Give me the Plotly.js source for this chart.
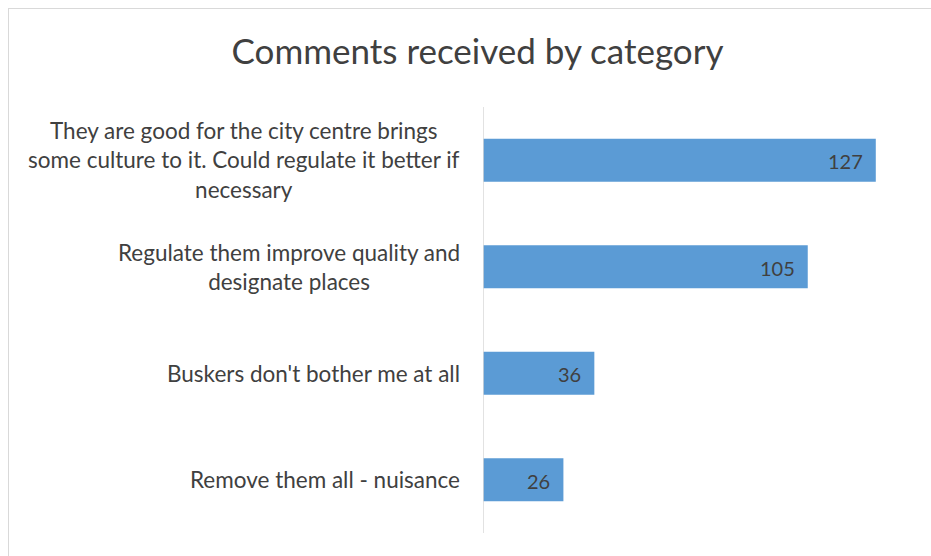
<!DOCTYPE html>
<html>
<head>
<meta charset="utf-8">
<script src="https://cdn.plot.ly/plotly-3.0.1.min.js"></script>
<style>
  html, body { margin: 0; padding: 0; background: #ffffff; }
  #chart { width: 931px; height: 556px; position: relative; }
  #frame { position: absolute; left: 8px; top: 8px; width: 1000px; height: 1000px;
           border: 1px solid #d9d9d9; pointer-events: none; box-sizing: border-box; }
  #wrap { position: relative; width: 931px; height: 556px; overflow: hidden; }
</style>
</head>
<body>
<div id="wrap">
  <div id="chart"></div>
  <div id="frame"></div>
</div>
<script>
// Data
const categories = [
  "They are good for the city centre brings<br>some culture to it. Could regulate it better if<br>necessary",
  "Regulate them improve quality and<br>designate places",
  "Buskers don't bother me at all",
  "Remove them all - nuisance"
];
const counts = [127, 105, 36, 26];
const chartTitle = "Comments received by category";

const FONT = "Lato, 'Open Sans', sans-serif";
const TXT = "#404040";

const trace = {
  type: "bar",
  orientation: "h",
  y: categories,
  x: counts,
  marker: { color: "#5b9bd5", line: { width: 0 } },
  width: 0.405,
  hoverinfo: "none",
  showlegend: false
};

const annotations = [];
categories.forEach((c, i) => {
  annotations.push({
    xref: "x", yref: "y", x: 0, y: c, text: c,
    xanchor: "right", yanchor: "middle", align: "center",
    xshift: -21, showarrow: false,
    font: { family: FONT, size: 22.5, color: TXT }
  });
  annotations.push({
    xref: "x", yref: "y", x: counts[i], y: c, text: String(counts[i]),
    xanchor: "right", yanchor: "middle", align: "right",
    xshift: -11, yshift: -1, showarrow: false,
    font: { family: FONT, size: 20, color: TXT }
  });
});

const layout = {
  width: 931, height: 556,
  paper_bgcolor: "rgba(0,0,0,0)", plot_bgcolor: "rgba(0,0,0,0)",
  margin: { l: 483, r: 15, t: 107, b: 23, pad: 0 },
  title: {
    text: chartTitle,
    font: { family: FONT, size: 35, color: TXT },
    x: 477.5 / 931, xanchor: "center", xref: "container",
    y: 1 - 52 / 556, yanchor: "middle", yref: "container"
  },
  xaxis: {
    range: [0, 140], visible: false, fixedrange: true
  },
  yaxis: {
    type: "category", autorange: "reversed",
    showticklabels: false, ticks: "",
    showgrid: false, zeroline: false,
    showline: false
  },
  shapes: [{
    type: "line", xref: "x", yref: "paper", x0: 0, x1: 0, y0: 0, y1: 1,
    line: { color: "#d9d9d9", width: 1.5 }
  }],
  annotations: annotations,
  bargap: 0.6
};

Plotly.newPlot("chart", [trace], layout, { displayModeBar: false, staticPlot: true });
</script>
</body>
</html>
